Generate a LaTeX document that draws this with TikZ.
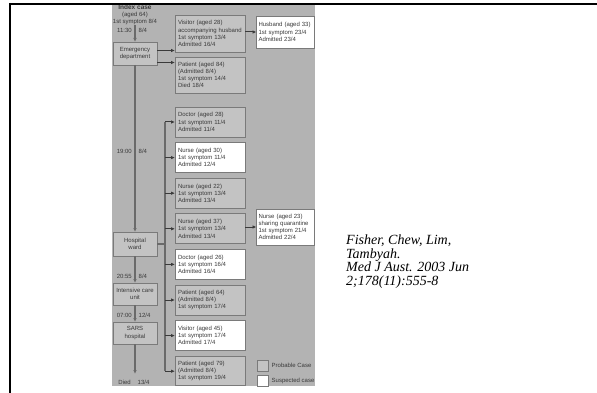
\documentclass[tikz,border=0pt]{standalone}
\usepackage{fontspec}
\setmainfont{Liberation Serif}
\newfontfamily\arialf{Liberation Sans}
\usetikzlibrary{arrows.meta}
\definecolor{panel}{HTML}{B3B3B3}
\definecolor{boxg}{HTML}{C3C3C3}
\definecolor{edge}{HTML}{7A7A7A}
\definecolor{ink}{HTML}{3A3A3A}
\definecolor{trunk}{HTML}{6A6A6A}
\tikzset{
  base/.style={font=\arialf\fontsize{6}{7.2}\selectfont, text=ink},
  pbox/.style={base, draw=edge, fill=boxg, line width=0.8pt, inner xsep=3pt, inner ysep=1pt,
    outer sep=0pt, align=left, text width=64pt, minimum width=70pt},
  sbox/.style={pbox, fill=white},
  rbox/.style={sbox, inner xsep=2pt, text width=54pt, minimum width=58pt},
  lbox/.style={base, draw=edge, fill=boxg, line width=0.8pt, inner sep=1pt, outer sep=0pt,
    align=center, minimum width=44pt},
  arr/.style={-{Latex[length=4pt,width=3.5pt]}, line width=1pt, draw=ink},
  trunkarr/.style={arr, draw=trunk, line width=1.6pt},
  trk/.style={line width=1.3pt, draw=trunk},
  lab/.style={base, inner sep=0pt},
  legsq/.style={draw=edge, fill=boxg, line width=0.8pt, minimum size=11pt, inner sep=0pt, outer sep=0pt},
}
\begin{document}
\begin{tikzpicture}[x=1pt,y=-1pt]
\useasboundingbox (0,0) rectangle (597,393);
\fill[white] (0,0) rectangle (597,393);
\fill[panel] (112,5) rectangle (315,386);

% index case
\node[lab, align=center, anchor=north] (idx) at (135,4.5)
  {{\fontsize{6.5}{7.6}\selectfont\bfseries Index case}\\(aged 64)\\1st symptom 8/4};
\coordinate (ia) at (135,25.5);
\node[lab, anchor=east] (t1a) at (132,30.5) {11:30};
\node[lab, anchor=west] (t1b) at (138.5,30.5) {8/4};

% left column
\node[lbox, minimum height=23pt] (ed) at (135,53.5) {Emergency\\department};
\node[lbox, minimum height=24pt] (hw) at (135,244) {Hospital\\ward};
\node[lbox, minimum height=22pt] (icu) at (135,294) {Intensive care\\unit};
\node[lbox, minimum height=22pt] (sars) at (135,333) {SARS\\hospital};
\coordinate (died) at (135,374);

\node[lab, anchor=east] (t2a) at (132,151) {19:00};
\node[lab, anchor=west] (t2b) at (138.5,151) {8/4};
\node[lab, anchor=east] (t3a) at (132,276) {20:55};
\node[lab, anchor=west] (t3b) at (138.5,276) {8/4};
\node[lab, anchor=east] (t4a) at (132,315) {07:00};
\node[lab, anchor=west] (t4b) at (138.5,315) {12/4};
\node[lab, anchor=east] (t5a) at (131,382) {Died};
\node[lab, anchor=west] (t5b) at (137.5,382) {13/4};

\draw[trunkarr] (ia) -- (ed);
\draw[trunkarr] (ed) -- (hw);
\draw[trunkarr] (hw) -- (icu);
\draw[trunkarr] (icu) -- (sars);
\draw[trunkarr] (sars) -- (died);

% middle column
\node[pbox, minimum height=37pt] (v28) at (210,33.5) {Visitor (aged 28)\\accompanying husband\\1st symptom 13/4\\Admitted 16/4};
\node[pbox, minimum height=36pt] (p84) at (210,75) {Patient (aged 84)\\(Admitted 8/4)\\1st symptom 14/4\\Died 18/4};
\node[pbox, minimum height=30pt] (d28) at (210,122) {Doctor (aged 28)\\1st symptom 11/4\\Admitted 11/4};
\node[sbox, minimum height=30pt] (n30) at (210,157.6) {Nurse (aged 30)\\1st symptom 11/4\\Admitted 12/4};
\node[pbox, minimum height=30pt] (n22) at (210,193.2) {Nurse (aged 22)\\1st symptom 13/4\\Admitted 13/4};
\node[pbox, minimum height=30pt] (n37) at (210,228.8) {Nurse (aged 37)\\1st symptom 13/4\\Admitted 13/4};
\node[sbox, minimum height=30pt] (d26) at (210,264.4) {Doctor (aged 26)\\1st symptom 16/4\\Admitted 16/4};
\node[pbox, minimum height=30pt] (p64) at (210,300) {Patient (aged 64)\\(Admitted 8/4)\\1st symptom 17/4};
\node[sbox, minimum height=30pt] (v45) at (210,335.6) {Visitor (aged 45)\\1st symptom 17/4\\Admitted 17/4};
\node[pbox, minimum height=29pt] (p79) at (210,371.2) {Patient (aged 79)\\(Admitted 8/4)\\1st symptom 19/4};

% right column
\node[rbox, minimum height=32pt] (hb) at (285.5,32) {Husband (aged 33)\\1st symptom 23/4\\Admitted 23/4};
\node[rbox, minimum height=36pt] (n23) at (285.5,227) {Nurse (aged 23)\\sharing quarantine\\1st symptom 21/4\\Admitted 22/4};

% connectors
\draw[arr] ([yshift=3pt]ed.east) -- ([yshift=3pt]ed.east -| v28.west);
\draw[arr] ([yshift=-9pt]ed.east) -- ([yshift=-9pt]ed.east -| p84.west);

\coordinate (dtop) at (165,122);
\coordinate (dbot) at (165,371.2);
\draw[trk] (dtop) -- (dbot);
\draw[trk] (hw.east) -- (hw.east -| dtop);
\foreach \n in {d28,n30,n22,n37,d26,p64,v45,p79}{
  \draw[arr] (dtop |- \n) -- (\n);
}
\draw[arr] (v28.east |- hb) -- (hb);
\draw[arr] (n37.east |- n23) -- (n23);

% legend
\begin{scope}
\clip (112,0) rectangle (315,393);
\node[legsq] (lp) at (262.5,365.5) {};
\node[lab, anchor=west] (lpt) at (271.5,365.5) {Probable Case};
\node[legsq, fill=white] (ls) at (262.5,380.5) {};
\node[lab, anchor=west] (lst) at (271.5,380.5) {Suspected case};
\end{scope}

% frame
\draw[line width=2pt] (9,4) -- (597,4);
\draw[line width=2pt] (10,3) -- (10,393);

% citation
\node[font=\itshape\fontsize{14}{13.5}\selectfont, align=left, anchor=north west, inner sep=0pt] (cite) at (346,235)
  {Fisher, Chew, Lim,\\Tambyah.\\Med J Aust. 2003 Jun\\2;178(11):555-8};
\end{tikzpicture}
\end{document}
